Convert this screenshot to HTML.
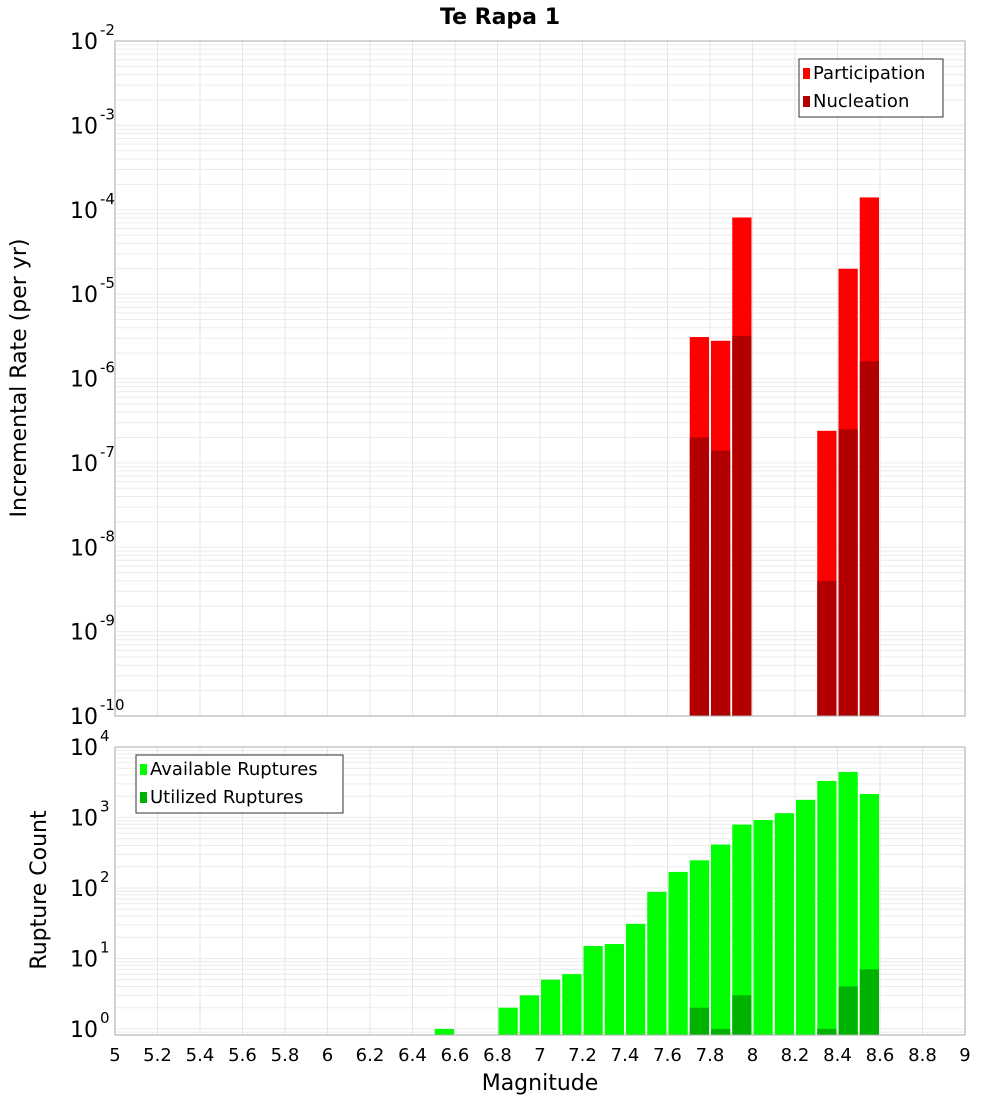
<!DOCTYPE html>
<html><head><meta charset="utf-8"><style>
body{margin:0;background:#fff;}
svg text{font-family:"DejaVu Sans","Liberation Sans",sans-serif;}
</style></head><body>
<svg id="c" width="1000" height="1100" xmlns="http://www.w3.org/2000/svg">
<text x="500" y="24" text-anchor="middle" font-size="22" font-weight="bold">Te Rapa 1</text>
<text transform="translate(26,378) rotate(-90)" text-anchor="middle" font-size="22">Incremental Rate (per yr)</text>
<text transform="translate(46,890) rotate(-90)" text-anchor="middle" font-size="22">Rupture Count</text>
<text x="540" y="1090" text-anchor="middle" font-size="22">Magnitude</text>
<g id="g"></g>
</svg>
<script>
const bins=[7.75,7.85,7.95,8.35,8.45,8.55];
const participation=[3.1e-6,2.8e-6,8.1e-5,2.4e-7,2.0e-5,1.4e-4];
const nucleation=[2.0e-7,1.4e-7,3.2e-6,4.0e-9,2.5e-7,1.6e-6];
const countBins=[6.55,6.85,6.95,7.05,7.15,7.25,7.35,7.45,7.55,7.65,7.75,7.85,7.95,8.05,8.15,8.25,8.35,8.45,8.55];
const available=[1,2,3,5,6,15,16,31,88,169,247,413,793,920,1150,1780,3300,4430,2150];
const utilBins=[7.75,7.85,7.95,8.35,8.45,8.55];
const utilized=[2,1,3,1,4,7];
const xTicks=["5","5.2","5.4","5.6","5.8","6","6.2","6.4","6.6","6.8","7","7.2","7.4","7.6","7.8","8","8.2","8.4","8.6","8.8","9"];
const topExp=[-2,-3,-4,-5,-6,-7,-8,-9,-10];
const botExp=[4,3,2,1,0];

const NS="http://www.w3.org/2000/svg";
const g=document.getElementById('g');
function el(t,a,p){const e=document.createElementNS(NS,t);for(const k in a)e.setAttribute(k,a[k]);(p||g).appendChild(e);return e;}
const X0=115,X1=965;
const x=m=>X0+(m-5)/4*(X1-X0);
const T0=41,T1=716;
const yT=v=>T0+(-2-Math.log10(v))/8*(T1-T0);
const B0=747,B1=1035,BLO=Math.log10(0.82),BHI=4;
const yB=v=>B0+(BHI-Math.log10(v))/(BHI-BLO)*(B1-B0);

function grid(y0,y1,loE,hiE,yf,nm){
  for(let e=loE;e<=hiE;e++)for(let k=1;k<10;k++){const v=k*Math.pow(10,e);const yy=yf(v);if(yy<y0-0.5||yy>y1+0.5)continue;
    const l=el('line',{x1:X0,x2:X1,y1:yy,y2:yy,stroke:'#ececec','stroke-width':1});
    
    }
  for(let i=0;i<xTicks.length;i++){const xx=x(5+i*0.2);
    const l=el('line',{x1:xx,x2:xx,y1:y0,y2:y1,stroke:'#e6e6e6','stroke-width':1});
    
    }
}
grid(T0,T1,-10,-3,yT,'top');
grid(B0,B1,-1,3,yB,'bottom');

function bar(m,v,yf,ybase,fill,nm){
  const xa=x(m-0.05)+1,xb=x(m+0.05)-1,yy=yf(v);
  const r=el('rect',{x:xa,y:yy,width:xb-xa,height:ybase-yy,fill:fill});
  
  
}
bins.forEach((m,i)=>bar(m,participation[i],yT,T1,'#ff0000','participation-bar'));
bins.forEach((m,i)=>bar(m,nucleation[i],yT,T1,'#b20000','nucleation-bar'));
countBins.forEach((m,i)=>bar(m,available[i],yB,B1,'#00ff00','available-bar'));
utilBins.forEach((m,i)=>bar(m,utilized[i],yB,B1,'#00b200','utilized-bar'));

let f=el('rect',{x:X0,y:T0,width:X1-X0,height:T1-T0,fill:'none',stroke:'#aaa'});


f=el('rect',{x:X0,y:B0,width:X1-X0,height:B1-B0,fill:'none',stroke:'#aaa'});



function ylab(e,yy,nm){
  const t=el('text',{x:98,y:yy+8,'text-anchor':'end','font-size':22});
  
  
  t.textContent='10';
  const s=el('text',{x:100,y:yy-6,'font-size':15});
  
  
  s.textContent=String(e);
}
topExp.forEach(e=>ylab(e,yT(Math.pow(10,e)),'top-y-tick-label'));
botExp.forEach(e=>ylab(e,yB(Math.pow(10,e)),'bottom-y-tick-label'));
xTicks.forEach((s,i)=>{const t=el('text',{x:x(5+i*0.2),y:1061,'text-anchor':'middle','font-size':18});
  
  
  t.textContent=s;});

function legend(bx,by,w,items,nm){
  const r=el('rect',{x:bx,y:by,width:w,height:58,fill:'#fff',stroke:'#333'});
  
  
  items.forEach((it,i)=>{
    const s=el('rect',{x:bx+4,y:by+9+i*28,width:7,height:11,fill:it[1]});
    
    
    const t=el('text',{x:bx+14,y:by+20+i*28,'font-size':18});
    
    
    t.textContent=it[0];});
}
legend(799,59,144,[['Participation','#ff0000'],['Nucleation','#b20000']],'top-legend');
legend(136,755,207,[['Available Ruptures','#00ff00'],['Utilized Ruptures','#00b200']],'bottom-legend');
</script>
</body></html>
